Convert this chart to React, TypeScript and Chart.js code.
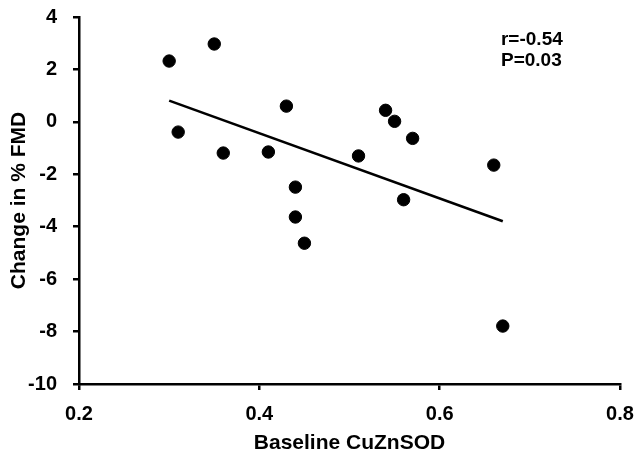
import React, { useEffect, useRef } from "react";
import { Chart, registerables } from "chart.js";

Chart.register(...registerables);

const baselineCuZnSOD = [0.30, 0.35, 0.31, 0.36, 0.41, 0.43, 0.44, 0.44, 0.45, 0.51, 0.54, 0.55, 0.57, 0.56, 0.66, 0.67];
const changeFMD = [2.32, 2.97, -0.39, -1.19, -1.15, 0.60, -2.49, -3.63, -4.63, -1.30, 0.44, 0.02, -0.63, -2.97, -1.65, -7.79];
const fitX = [0.30, 0.67];
const fitY = [0.81, -3.79];
const statsLines = ["r=-0.54", "P=0.03"];
const xTitle = "Baseline CuZnSOD";
const yTitle = "Change in % FMD";

const FONT = "'Liberation Sans', Arial, sans-serif";

export default function App() {
  const ref = useRef<HTMLCanvasElement | null>(null);

  useEffect(() => {
    document.body.style.margin = "0";
    const canvas = ref.current;
    if (!canvas) return;

    const statsPlugin = {
      id: "stats",
      afterDraw(chart: any) {
        const ctx = chart.ctx;
        const xs = chart.scales.x;
        const ys = chart.scales.y;
        ctx.save();
        ctx.fillStyle = "#000";
        ctx.font = `bold 19px ${FONT}`;
        ctx.textAlign = "left";
        ctx.textBaseline = "middle";
        const x0 = xs.getPixelForValue(0.668);
        statsLines.forEach((t, i) => {
          ctx.fillText(t, x0, ys.getPixelForValue(3.12 - i * 0.8));
        });
        ctx.restore();
      },
    };

    const chart = new Chart(canvas, {
      type: "scatter",
      data: {
        datasets: [
          {
            type: "scatter",
            data: baselineCuZnSOD.map((x, i) => ({ x, y: changeFMD[i] })),
            backgroundColor: "#000",
            borderColor: "#000",
            pointRadius: 6.2,
            pointHoverRadius: 6.2,
          },
          {
            type: "line",
            data: fitX.map((x, i) => ({ x, y: fitY[i] })),
            borderColor: "#000",
            borderWidth: 2.6,
            pointRadius: 0,
            fill: false,
          } as any,
        ],
      },
      options: {
        animation: false,
        responsive: false,
        events: [],
        layout: { padding: { top: 17, right: 24, left: 0, bottom: 0 } },
        plugins: {
          legend: { display: false },
          tooltip: { enabled: false },
        },
        scales: {
          x: {
            type: "linear",
            min: 0.2,
            max: 0.8,
            afterFit: (s: any) => {
              s.height = 72;
              s.paddingLeft = 0;
              s.paddingRight = 0;
            },
            ticks: {
              stepSize: 0.2,
              color: "#000",
              padding: 12,
              font: { family: FONT, size: 20, weight: "bold" },
              callback: (v: any) => Number(v).toFixed(1),
            },
            grid: {
              display: true,
              drawOnChartArea: false,
              drawTicks: true,
              tickLength: 6,
              color: "#000",
              lineWidth: 2.5,
            },
            border: { display: true, color: "#000", width: 2.5 },
            title: {
              display: true,
              text: xTitle,
              color: "#000",
              font: { family: FONT, size: 21, weight: "bold" },
              padding: { top: 1, bottom: 0 },
            },
          },
          y: {
            type: "linear",
            min: -10,
            max: 4,
            afterFit: (s: any) => {
              s.width = 79;
              s.paddingTop = 0;
              s.paddingBottom = 0;
            },
            ticks: {
              stepSize: 2,
              color: "#000",
              padding: 16,
              font: { family: FONT, size: 20, weight: "bold" },
              callback: (v: any) => String(Math.round(Number(v))),
            },
            grid: {
              display: true,
              drawOnChartArea: false,
              drawTicks: true,
              tickLength: 6,
              color: "#000",
              lineWidth: 2.5,
            },
            border: { display: true, color: "#000", width: 2.5 },
            title: {
              display: true,
              text: yTitle,
              color: "#000",
              font: { family: FONT, size: 21, weight: "bold" },
              padding: { top: 7, bottom: 0 },
            },
          },
        },
      },
      plugins: [statsPlugin],
    });

    return () => chart.destroy();
  }, []);

  return (
    <div style={{ width: 644, height: 456, background: "#fff" }}>
      <canvas ref={ref} width={644} height={456} style={{ display: "block" }} />
    </div>
  );
}
